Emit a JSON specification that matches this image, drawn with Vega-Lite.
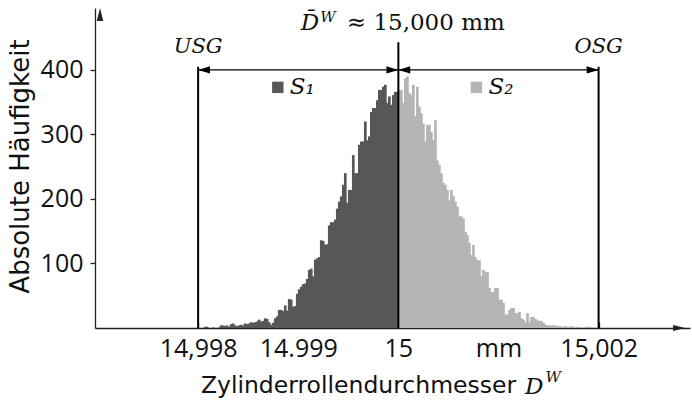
{
"$schema":"https://vega.github.io/schema/vega-lite/v6.json",
"width":595,"height":320,
"autosize":{"type":"none"},
"padding":{"left":95,"top":8,"right":2,"bottom":76},
"background":"white",
"config":{"view":{"stroke":null},"axis":{"grid":false,"domainColor":"#222222","tickColor":"#222222","labelColor":"#111111","titleColor":"#111111","labelFont":"Open Sans","titleFont":"DejaVu Sans","titleFontWeight":"normal","domainWidth":1.3,"tickWidth":1.3}},
"datasets":{
"hist":[
{"x":14.99801,"y":0,"s":"S1"},{"x":14.99803,"y":0,"s":"S1"},{"x":14.99805,"y":0,"s":"S1"},{"x":14.99807,"y":2,"s":"S1"},{"x":14.99809,"y":2,"s":"S1"},
{"x":14.99811,"y":0,"s":"S1"},{"x":14.99813,"y":0,"s":"S1"},{"x":14.99815,"y":1,"s":"S1"},{"x":14.99817,"y":0,"s":"S1"},{"x":14.99819,"y":0,"s":"S1"},
{"x":14.99821,"y":1,"s":"S1"},{"x":14.99823,"y":4,"s":"S1"},{"x":14.99825,"y":4,"s":"S1"},{"x":14.99827,"y":3,"s":"S1"},{"x":14.99829,"y":4,"s":"S1"},
{"x":14.99831,"y":2,"s":"S1"},{"x":14.99833,"y":6,"s":"S1"},{"x":14.99835,"y":7,"s":"S1"},{"x":14.99837,"y":4,"s":"S1"},{"x":14.99839,"y":3,"s":"S1"},
{"x":14.99841,"y":4,"s":"S1"},{"x":14.99843,"y":5,"s":"S1"},{"x":14.99845,"y":4,"s":"S1"},{"x":14.99847,"y":7,"s":"S1"},{"x":14.99849,"y":6,"s":"S1"},
{"x":14.99851,"y":7,"s":"S1"},{"x":14.99853,"y":9,"s":"S1"},{"x":14.99855,"y":8,"s":"S1"},{"x":14.99857,"y":9,"s":"S1"},{"x":14.99859,"y":10,"s":"S1"},
{"x":14.99861,"y":13,"s":"S1"},{"x":14.99863,"y":10,"s":"S1"},{"x":14.99865,"y":11,"s":"S1"},{"x":14.99867,"y":15,"s":"S1"},{"x":14.99869,"y":14,"s":"S1"},
{"x":14.99871,"y":9,"s":"S1"},{"x":14.99873,"y":5,"s":"S1"},{"x":14.99875,"y":8,"s":"S1"},{"x":14.99877,"y":15,"s":"S1"},{"x":14.99879,"y":18,"s":"S1"},
{"x":14.99881,"y":28,"s":"S1"},{"x":14.99883,"y":28,"s":"S1"},{"x":14.99885,"y":26,"s":"S1"},{"x":14.99887,"y":35,"s":"S1"},{"x":14.99889,"y":27,"s":"S1"},
{"x":14.99891,"y":45,"s":"S1"},{"x":14.99893,"y":44,"s":"S1"},{"x":14.99895,"y":33,"s":"S1"},{"x":14.99897,"y":34,"s":"S1"},{"x":14.99899,"y":53,"s":"S1"},
{"x":14.99901,"y":60,"s":"S1"},{"x":14.99903,"y":64,"s":"S1"},{"x":14.99905,"y":68,"s":"S1"},{"x":14.99907,"y":69,"s":"S1"},{"x":14.99909,"y":76,"s":"S1"},
{"x":14.99911,"y":90,"s":"S1"},{"x":14.99913,"y":92,"s":"S1"},{"x":14.99915,"y":80,"s":"S1"},{"x":14.99917,"y":106,"s":"S1"},{"x":14.99919,"y":108,"s":"S1"},
{"x":14.99921,"y":110,"s":"S1"},{"x":14.99923,"y":136,"s":"S1"},{"x":14.99925,"y":135,"s":"S1"},{"x":14.99927,"y":129,"s":"S1"},{"x":14.99929,"y":130,"s":"S1"},
{"x":14.99931,"y":159,"s":"S1"},{"x":14.99933,"y":164,"s":"S1"},{"x":14.99935,"y":164,"s":"S1"},{"x":14.99937,"y":168,"s":"S1"},{"x":14.99939,"y":185,"s":"S1"},
{"x":14.99941,"y":196,"s":"S1"},{"x":14.99943,"y":204,"s":"S1"},{"x":14.99945,"y":222,"s":"S1"},{"x":14.99947,"y":240,"s":"S1"},{"x":14.99949,"y":194,"s":"S1"},
{"x":14.99951,"y":214,"s":"S1"},{"x":14.99953,"y":214,"s":"S1"},{"x":14.99955,"y":268,"s":"S1"},{"x":14.99957,"y":240,"s":"S1"},{"x":14.99959,"y":240,"s":"S1"},
{"x":14.99961,"y":284,"s":"S1"},{"x":14.99963,"y":289,"s":"S1"},{"x":14.99965,"y":289,"s":"S1"},{"x":14.99967,"y":320,"s":"S1"},{"x":14.99969,"y":291,"s":"S1"},
{"x":14.99971,"y":297,"s":"S1"},{"x":14.99973,"y":335,"s":"S1"},{"x":14.99975,"y":341,"s":"S1"},{"x":14.99977,"y":341,"s":"S1"},{"x":14.99979,"y":353,"s":"S1"},
{"x":14.99981,"y":369,"s":"S1"},{"x":14.99983,"y":369,"s":"S1"},{"x":14.99985,"y":374,"s":"S1"},{"x":14.99987,"y":377,"s":"S1"},{"x":14.99989,"y":349,"s":"S1"},
{"x":14.99991,"y":359,"s":"S1"},{"x":14.99993,"y":346,"s":"S1"},{"x":14.99995,"y":361,"s":"S1"},{"x":14.99997,"y":366,"s":"S1"},{"x":14.99999,"y":366,"s":"S1"},
{"x":15.00001,"y":369,"s":"S2"},{"x":15.00003,"y":369,"s":"S2"},{"x":15.00005,"y":349,"s":"S2"},{"x":15.00007,"y":387,"s":"S2"},{"x":15.00009,"y":390,"s":"S2"},
{"x":15.00011,"y":364,"s":"S2"},{"x":15.00013,"y":361,"s":"S2"},{"x":15.00015,"y":377,"s":"S2"},{"x":15.00017,"y":328,"s":"S2"},{"x":15.00019,"y":374,"s":"S2"},
{"x":15.00021,"y":343,"s":"S2"},{"x":15.00023,"y":333,"s":"S2"},{"x":15.00025,"y":317,"s":"S2"},{"x":15.00027,"y":289,"s":"S2"},{"x":15.00029,"y":315,"s":"S2"},
{"x":15.00031,"y":315,"s":"S2"},{"x":15.00033,"y":304,"s":"S2"},{"x":15.00035,"y":291,"s":"S2"},{"x":15.00037,"y":322,"s":"S2"},{"x":15.00039,"y":260,"s":"S2"},
{"x":15.00041,"y":253,"s":"S2"},{"x":15.00043,"y":240,"s":"S2"},{"x":15.00045,"y":225,"s":"S2"},{"x":15.00047,"y":222,"s":"S2"},{"x":15.00049,"y":214,"s":"S2"},
{"x":15.00051,"y":198,"s":"S2"},{"x":15.00053,"y":214,"s":"S2"},{"x":15.00055,"y":204,"s":"S2"},{"x":15.00057,"y":196,"s":"S2"},{"x":15.00059,"y":188,"s":"S2"},
{"x":15.00061,"y":173,"s":"S2"},{"x":15.00063,"y":173,"s":"S2"},{"x":15.00065,"y":170,"s":"S2"},{"x":15.00067,"y":149,"s":"S2"},{"x":15.00069,"y":144,"s":"S2"},
{"x":15.00071,"y":132,"s":"S2"},{"x":15.00073,"y":113,"s":"S2"},{"x":15.00075,"y":129,"s":"S2"},{"x":15.00077,"y":110,"s":"S2"},{"x":15.00079,"y":105,"s":"S2"},
{"x":15.00081,"y":105,"s":"S2"},{"x":15.00083,"y":80,"s":"S2"},{"x":15.00085,"y":90,"s":"S2"},{"x":15.00087,"y":87,"s":"S2"},{"x":15.00089,"y":87,"s":"S2"},
{"x":15.00091,"y":62,"s":"S2"},{"x":15.00093,"y":56,"s":"S2"},{"x":15.00095,"y":56,"s":"S2"},{"x":15.00097,"y":62,"s":"S2"},{"x":15.00099,"y":62,"s":"S2"},
{"x":15.00101,"y":44,"s":"S2"},{"x":15.00103,"y":44,"s":"S2"},{"x":15.00105,"y":39,"s":"S2"},{"x":15.00107,"y":21,"s":"S2"},{"x":15.00109,"y":21,"s":"S2"},
{"x":15.00111,"y":28,"s":"S2"},{"x":15.00113,"y":31,"s":"S2"},{"x":15.00115,"y":31,"s":"S2"},{"x":15.00117,"y":23,"s":"S2"},{"x":15.00119,"y":23,"s":"S2"},
{"x":15.00121,"y":25,"s":"S2"},{"x":15.00123,"y":15,"s":"S2"},{"x":15.00125,"y":13,"s":"S2"},{"x":15.00127,"y":9,"s":"S2"},{"x":15.00129,"y":23,"s":"S2"},
{"x":15.00131,"y":9,"s":"S2"},{"x":15.00133,"y":17,"s":"S2"},{"x":15.00135,"y":17,"s":"S2"},{"x":15.00137,"y":14,"s":"S2"},{"x":15.00139,"y":12,"s":"S2"},
{"x":15.00141,"y":11,"s":"S2"},{"x":15.00143,"y":11,"s":"S2"},{"x":15.00145,"y":8,"s":"S2"},{"x":15.00147,"y":5,"s":"S2"},{"x":15.00149,"y":4,"s":"S2"},
{"x":15.00151,"y":4,"s":"S2"},{"x":15.00153,"y":4,"s":"S2"},{"x":15.00155,"y":4,"s":"S2"},{"x":15.00157,"y":4,"s":"S2"},{"x":15.00159,"y":3,"s":"S2"},
{"x":15.00161,"y":3,"s":"S2"},{"x":15.00163,"y":2,"s":"S2"},{"x":15.00165,"y":2,"s":"S2"},{"x":15.00167,"y":3,"s":"S2"},{"x":15.00169,"y":2,"s":"S2"},
{"x":15.00171,"y":2,"s":"S2"},{"x":15.00173,"y":3,"s":"S2"},{"x":15.00175,"y":2,"s":"S2"},{"x":15.00177,"y":1,"s":"S2"},{"x":15.00179,"y":2,"s":"S2"},
{"x":15.00181,"y":1,"s":"S2"},{"x":15.00183,"y":1,"s":"S2"},{"x":15.00185,"y":1,"s":"S2"},{"x":15.00187,"y":1,"s":"S2"},{"x":15.00189,"y":2,"s":"S2"},
{"x":15.00191,"y":2,"s":"S2"},{"x":15.00193,"y":1,"s":"S2"},{"x":15.00195,"y":1,"s":"S2"},{"x":15.00197,"y":0,"s":"S2"},{"x":15.00199,"y":0,"s":"S2"}
],
"limits":[{"x":14.998,"y":0,"y2":405},{"x":15.0,"y":0,"y2":443},{"x":15.002,"y":0,"y2":405}],
"dim":[{"x":14.998,"x2":15.002,"y":400}],
"headR":[{"x":14.999941,"y":400},{"x":15.001941,"y":400}],
"headL":[{"x":14.998059,"y":400},{"x":15.000059,"y":400}],
"axisUp":[{"x":14.99702,"y":486}],
"axisRight":[{"x":15.002804,"y":0}],
"limitTags":[{"x":14.998,"y":436,"t":"USG"},{"x":15.002,"y":436,"t":"OSG"}],
"bigD":[{"x":14.99921,"y":462,"t":"D\u0304"},{"x":15.00145,"y":-102,"t":"D"}],
"supW":[{"x":14.99922,"y":474,"t":"W"},{"x":15.00147,"y":-84,"t":"W"}],
"meanVal":[{"x":14.999485,"y":462,"t":"\u2248 15,000 mm"}],
"keys":[{"x":14.998796,"y":373,"s":"S1"},{"x":15.00078,"y":373,"s":"S2"}],
"keyTags":[{"x":14.998914,"y":373,"t":"S\u2081"},{"x":15.0009,"y":373,"t":"S\u2082"}]
},
"encoding":{
"x":{"field":"x","type":"quantitative","scale":{"domain":[14.99702,15.002863],"nice":false,"zero":false},
"axis":{"values":[14.998,14.999,15,15.001,15.002],"labelExpr":"round(datum.value*1000)==14998?'14,998':round(datum.value*1000)==14999?'14.999':round(datum.value*1000)==15000?'15':round(datum.value*1000)==15001?'mm':'15,002'","labelFontSize":25,"tickSize":-6,"labelPadding":14,"title":"Zylinderrollendurchmesser","titleFontSize":23.5,"titleX":263,"titleY":57,"titleBaseline":"middle","titleAlign":"center","labelFlush":false,"labelOverlap":false}},
"y":{"field":"y","type":"quantitative","scale":{"domain":[0,496],"nice":false},
"axis":{"values":[100,200,300,400],"labelFontSize":25,"tickSize":5,"labelPadding":7,"title":"Absolute H\u00e4ufigkeit","titleFontSize":26,"titleX":-75,"titleY":158,"titleBaseline":"middle","titleAlign":"center"}}
},
"layer":[
{"data":{"name":"hist"},"mark":{"type":"bar","orient":"vertical","width":2.7,"strokeWidth":0},
 "encoding":{"color":{"field":"s","type":"nominal","scale":{"domain":["S1","S2"],"range":["#575757","#b4b4b4"]},"legend":null}}},
{"data":{"name":"limits"},"mark":{"type":"rule","strokeWidth":2,"color":"#000000"},"encoding":{"y2":{"field":"y2"}}},
{"data":{"name":"dim"},"mark":{"type":"rule","strokeWidth":1.3,"color":"#000000"},"encoding":{"x2":{"field":"x2"}}},
{"data":{"name":"headR"},"mark":{"type":"point","shape":"M-1,-0.6L1,0L-1,0.6Z","size":144,"filled":true,"color":"#000000","opacity":1,"strokeWidth":0}},
{"data":{"name":"headL"},"mark":{"type":"point","shape":"M1,-0.6L-1,0L1,0.6Z","size":144,"filled":true,"color":"#000000","opacity":1,"strokeWidth":0}},
{"data":{"name":"axisUp"},"mark":{"type":"point","shape":"M-0.5,1L0,-1L0.5,1Z","size":169,"filled":true,"color":"#222222","opacity":1,"strokeWidth":0}},
{"data":{"name":"axisRight"},"mark":{"type":"point","shape":"M-1,-0.5L1,0L-1,0.5Z","size":144,"filled":true,"color":"#222222","opacity":1,"strokeWidth":0}},
{"data":{"name":"limitTags"},"mark":{"type":"text","font":"DejaVu Serif","fontStyle":"italic","fontSize":21,"align":"center","baseline":"middle","color":"#111111"},"encoding":{"text":{"field":"t"}}},
{"data":{"name":"bigD"},"mark":{"type":"text","font":"DejaVu Serif","fontStyle":"italic","fontSize":23,"align":"right","baseline":"alphabetic","color":"#111111"},"encoding":{"text":{"field":"t"}}},
{"data":{"name":"supW"},"mark":{"type":"text","font":"DejaVu Serif","fontStyle":"italic","fontSize":15,"align":"left","baseline":"alphabetic","color":"#111111"},"encoding":{"text":{"field":"t"}}},
{"data":{"name":"meanVal"},"mark":{"type":"text","font":"DejaVu Serif","fontSize":23,"align":"left","baseline":"alphabetic","color":"#111111"},"encoding":{"text":{"field":"t"}}},
{"data":{"name":"keys"},"mark":{"type":"point","shape":"square","size":130,"filled":true,"opacity":1,"strokeWidth":0},
 "encoding":{"color":{"field":"s","type":"nominal","scale":{"domain":["S1","S2"],"range":["#575757","#b4b4b4"]},"legend":null}}},
{"data":{"name":"keyTags"},"mark":{"type":"text","font":"DejaVu Serif","fontStyle":"italic","fontSize":23,"align":"left","baseline":"middle","color":"#111111"},"encoding":{"text":{"field":"t"}}}
]
}
